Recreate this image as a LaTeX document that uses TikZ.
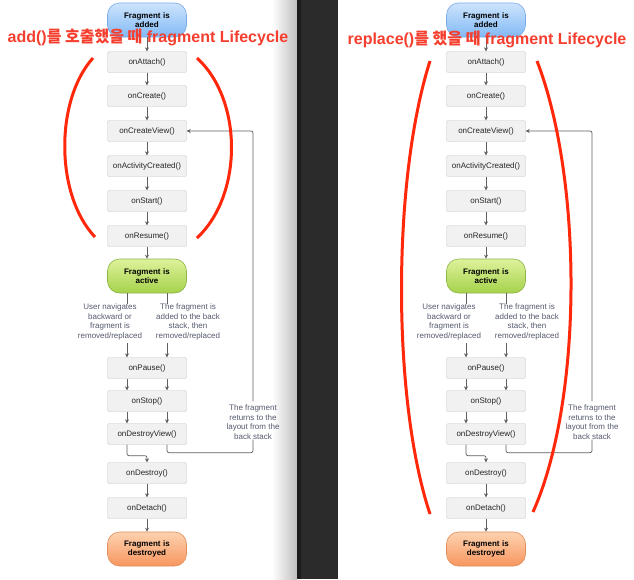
\documentclass[tikz,border=0pt]{standalone}
\usepackage{fontspec}
\setmainfont{Liberation Sans}
\newfontfamily\krfont{Noto Sans CJK KR}
\usepackage{tikz}
\usetikzlibrary{arrows.meta, positioning, calc}
\definecolor{boxfill}{RGB}{241, 241, 241}
\definecolor{boxborder}{RGB}{198, 198, 198}
\definecolor{arrowgray}{RGB}{95, 95, 95}
\definecolor{notegray}{RGB}{85, 90, 110}
\definecolor{addedtop}{RGB}{205, 228, 252}
\definecolor{addedbottom}{RGB}{130, 185, 245}
\definecolor{addedborder}{RGB}{120, 170, 230}
\definecolor{activetop}{RGB}{222, 242, 155}
\definecolor{activebottom}{RGB}{165, 210, 75}
\definecolor{activeborder}{RGB}{140, 180, 70}
\definecolor{destroytop}{RGB}{253, 210, 175}
\definecolor{destroybottom}{RGB}{248, 150, 95}
\definecolor{destroyborder}{RGB}{225, 140, 90}
\definecolor{markred}{RGB}{255, 40, 10}
\definecolor{titlered}{RGB}{245, 62, 45}
\definecolor{bandgray}{RGB}{43, 43, 43}
\definecolor{banddark}{RGB}{28, 28, 28}
\tikzstyle{stepbox} = [draw=boxborder, fill=boxfill, rounded corners=2pt, minimum width=79pt, minimum height=21pt, inner sep=0pt, font=\fontsize{8}{9.6}\selectfont, text=black!85]
\tikzstyle{pill} = [rounded corners=12pt, minimum width=79pt, minimum height=34pt, text width=75pt, align=center, inner sep=0pt, font=\fontsize{8}{9.5}\selectfont\bfseries, line width=0.6pt]
\tikzstyle{addedpill} = [pill, draw=addedborder, top color=addedtop, bottom color=addedbottom]
\tikzstyle{activepill} = [pill, draw=activeborder, top color=activetop, bottom color=activebottom]
\tikzstyle{destroypill} = [pill, draw=destroyborder, top color=destroytop, bottom color=destroybottom]
\tikzstyle{note} = [align=center, inner sep=0pt, font=\fontsize{8}{9.6}\selectfont, text=notegray]
\tikzstyle{arrow} = [-{Stealth[length=4pt, width=4pt]}, draw=arrowgray, line width=0.7pt]
\tikzstyle{wire} = [draw=arrowgray, line width=0.7pt, rounded corners=2pt]
\tikzstyle{bracket} = [draw=markred, line width=3pt]
\tikzstyle{title} = [text=titlered, anchor=base, inner sep=0pt, font=\fontsize{16}{19}\selectfont\bfseries]

\begin{document}
\begin{tikzpicture}[x=1pt, y=-1pt]
    % Page and dark middle band
    \useasboundingbox (0,0) rectangle (634,579);
    \fill[white] (0,0) rectangle (634,579);
    \shade[left color=white, right color=gray!50] (272,0) rectangle (297,579);
    \fill[bandgray] (297,0) rectangle (338,579);
    \fill[banddark] (297,0) rectangle (301,579);

    % The same lifecycle chart in both panels
    \foreach \p/\dx in {L/0, R/339} {
    \begin{scope}[xshift=\dx pt]
        \node[addedpill] (\p-added) at (147,20) {Fragment is\\added};
        \node[stepbox] (\p-attach) at (147,62) {onAttach()};
        \node[stepbox] (\p-create) at (147,96) {onCreate()};
        \node[stepbox] (\p-view) at (147,131) {onCreateView()};
        \node[stepbox] (\p-actcreated) at (147,166) {onActivityCreated()};
        \node[stepbox] (\p-start) at (147,201) {onStart()};
        \node[stepbox] (\p-resume) at (147,236) {onResume()};
        \node[activepill] (\p-active) at (147,276) {Fragment is\\active};

        \node[note] (\p-user) at (110,322) {User navigates\\backward or\\fragment is\\removed/replaced};
        \node[note] (\p-stack) at (188,322) {The fragment is\\added to the back\\stack, then\\removed/replaced};

        \node[stepbox] (\p-pause) at (147,368) {onPause()};
        \node[stepbox] (\p-stop) at (147,401) {onStop()};
        \node[stepbox] (\p-destroyview) at (147,434) {onDestroyView()};
        \node[note] (\p-back) at (253,422) {The fragment\\returns to the\\layout from the\\back stack};
        \node[stepbox] (\p-destroy) at (147,473) {onDestroy()};
        \node[stepbox] (\p-detach) at (147,508) {onDetach()};
        \node[destroypill] (\p-destroyed) at (147,549) {Fragment is\\destroyed};

        % Main chain
        \draw[arrow] (\p-added) -- (\p-attach);
        \draw[arrow] (\p-attach) -- (\p-create);
        \draw[arrow] (\p-create) -- (\p-view);
        \draw[arrow] (\p-view) -- (\p-actcreated);
        \draw[arrow] (\p-actcreated) -- (\p-start);
        \draw[arrow] (\p-start) -- (\p-resume);
        \draw[arrow] (\p-resume) -- (\p-active);

        % Two ways down from the active state
        \draw[wire] ([xshift=-20pt]\p-active.south) -- ([xshift=-20pt]\p-active.south |- \p-user.north);
        \draw[wire] ([xshift=20pt]\p-active.south) -- ([xshift=20pt]\p-active.south |- \p-stack.north);
        \draw[arrow, shorten <=3pt] ([xshift=-20pt]\p-pause.north |- \p-user.south) -- ([xshift=-20pt]\p-pause.north);
        \draw[arrow, shorten <=3pt] ([xshift=20pt]\p-pause.north |- \p-stack.south) -- ([xshift=20pt]\p-pause.north);
        \draw[arrow] ([xshift=-20pt]\p-pause.south) -- ([xshift=-20pt]\p-stop.north);
        \draw[arrow] ([xshift=20pt]\p-pause.south) -- ([xshift=20pt]\p-stop.north);
        \draw[arrow] ([xshift=-20pt]\p-stop.south) -- ([xshift=-20pt]\p-destroyview.north);
        \draw[arrow] ([xshift=20pt]\p-stop.south) -- ([xshift=20pt]\p-destroyview.north);

        % Split after onDestroyView
        \draw[arrow, rounded corners=2pt] ([xshift=-20pt]\p-destroyview.south) -- ++(0,11) -| (\p-destroy.north);
        \draw[wire] ([xshift=20pt]\p-destroyview.south) -- ++(0,8) -| (\p-back.south);
        \draw[arrow, rounded corners=2pt, shorten <=3pt] (\p-back.north) |- (\p-view.east);

        % End of the chain
        \draw[arrow] (\p-destroy) -- (\p-detach);
        \draw[arrow] (\p-detach) -- (\p-destroyed);
    \end{scope}
    }

    % Red marks on the left panel
    \draw[bracket] (93,58) .. controls (55,100) and (55,195) .. (95,237);
    \draw[bracket] (197,58) .. controls (243,100) and (243,195) .. (197,238);
    \node[title] (addtitle) at (148,42) {add(){\krfont 를 호출했을 때} fragment Lifecycle};

    % Red marks on the right panel
    \draw[bracket] (430,61) .. controls (392,180) and (392,400) .. (430,514);
    \draw[bracket] (537,61) .. controls (583,180) and (583,400) .. (533,512);
    \node[title] (replacetitle) at (487,44) {replace(){\krfont 를 했을 때} fragment Lifecycle};
\end{tikzpicture}
\end{document}
